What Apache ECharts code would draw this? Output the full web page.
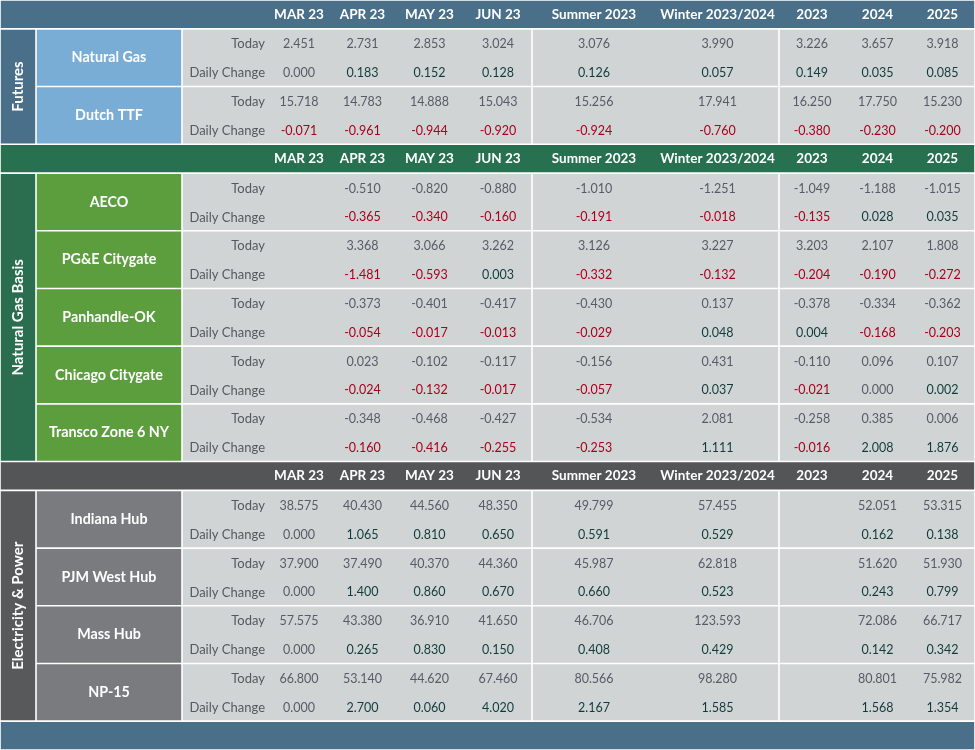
<!DOCTYPE html>
<html>
<head>
<meta charset="utf-8">
<script src="https://cdn.jsdelivr.net/npm/echarts@6/dist/echarts.min.js"></script>
<style>
html, body { margin: 0; padding: 0; background: #fff; }
#main { width: 975px; height: 750px; }
</style>
</head>
<body>
<div id="main"></div>
<script>
// column headers and row labels
var periods = ['MAR 23', 'APR 23', 'MAY 23', 'JUN 23', 'Summer 2023', 'Winter 2023/2024', '2023', '2024', '2025'];
var rowLabels = ['Today', 'Daily Change'];
var sections = ['Futures', 'Natural Gas Basis', 'Electricity & Power'];

// Futures
var futuresHubs = ['Natural Gas', 'Dutch TTF'];
var futuresToday = [
    [2.451, 2.731, 2.853, 3.024, 3.076, 3.990, 3.226, 3.657, 3.918],
    [15.718, 14.783, 14.888, 15.043, 15.256, 17.941, 16.250, 17.750, 15.230]
];
var futuresChange = [
    [0.000, 0.183, 0.152, 0.128, 0.126, 0.057, 0.149, 0.035, 0.085],
    [-0.071, -0.961, -0.944, -0.920, -0.924, -0.760, -0.380, -0.230, -0.200]
];

// Natural Gas Basis
var basisHubs = ['AECO', 'PG&E Citygate', 'Panhandle-OK', 'Chicago Citygate', 'Transco Zone 6 NY'];
var basisToday = [
    [null, -0.510, -0.820, -0.880, -1.010, -1.251, -1.049, -1.188, -1.015],
    [null, 3.368, 3.066, 3.262, 3.126, 3.227, 3.203, 2.107, 1.808],
    [null, -0.373, -0.401, -0.417, -0.430, 0.137, -0.378, -0.334, -0.362],
    [null, 0.023, -0.102, -0.117, -0.156, 0.431, -0.110, 0.096, 0.107],
    [null, -0.348, -0.468, -0.427, -0.534, 2.081, -0.258, 0.385, 0.006]
];
var basisChange = [
    [null, -0.365, -0.340, -0.160, -0.191, -0.018, -0.135, 0.028, 0.035],
    [null, -1.481, -0.593, 0.003, -0.332, -0.132, -0.204, -0.190, -0.272],
    [null, -0.054, -0.017, -0.013, -0.029, 0.048, 0.004, -0.168, -0.203],
    [null, -0.024, -0.132, -0.017, -0.057, 0.037, -0.021, 0.000, 0.002],
    [null, -0.160, -0.416, -0.255, -0.253, 1.111, -0.016, 2.008, 1.876]
];

// Electricity & Power
var powerHubs = ['Indiana Hub', 'PJM West Hub', 'Mass Hub', 'NP-15'];
var powerToday = [
    [38.575, 40.430, 44.560, 48.350, 49.799, 57.455, null, 52.051, 53.315],
    [37.900, 37.490, 40.370, 44.360, 45.987, 62.818, null, 51.620, 51.930],
    [57.575, 43.380, 36.910, 41.650, 46.706, 123.593, null, 72.086, 66.717],
    [66.800, 53.140, 44.620, 67.460, 80.566, 98.280, null, 80.801, 75.982]
];
var powerChange = [
    [0.000, 1.065, 0.810, 0.650, 0.591, 0.529, null, 0.162, 0.138],
    [0.000, 1.400, 0.860, 0.670, 0.660, 0.523, null, 0.243, 0.799],
    [0.000, 0.265, 0.830, 0.150, 0.408, 0.429, null, 0.142, 0.342],
    [0.000, 2.700, 0.060, 4.020, 2.167, 1.585, null, 1.568, 1.354]
];

// layout: column edges (x axis units) and groups of data columns
var colEdges = [0, 36, 182, 268, 330, 395, 464, 532, 656, 779, 845, 910, 975];
var blocks = [[2, 7], [7, 9], [9, 12]];   // gray blocks: [first col, end col)
var themes = [
    { head: '#4a7089', side: '#4a6f89', name: '#7aadd5' },
    { head: '#287150', side: '#2a6e4f', name: '#5c9e3e' },
    { head: '#545557', side: '#58595b', name: '#797b7e' }
];
var footColor = '#4a7089';
var grayCell = '#d1d4d5';
var font = 'Lato, "Open Sans", sans-serif';

var sectionData = [
    { hubs: futuresHubs, today: futuresToday, change: futuresChange },
    { hubs: basisHubs, today: basisToday, change: basisChange },
    { hubs: powerHubs, today: powerToday, change: powerChange }
];

// build cell rects and texts
var cells = [];
var texts = [];
var row = 0;
function mid(c) { return (colEdges[c] + colEdges[c + 1]) / 2; }
function changeColor(v) { return v > 0 ? '#0f3c3a' : (v < 0 ? '#a8001c' : '#565c66'); }

sectionData.forEach(function (sec, s) {
    var th = themes[s];
    // header row
    cells.push({ value: [0, 975, row, row + 1], fill: th.head });
    periods.forEach(function (p, i) {
        texts.push({ value: [mid(i + 3), row + 0.5], text: p, color: '#fff', bold: true, size: 13.5, align: 'center' });
    });
    row++;
    var start = row;
    sec.hubs.forEach(function (hub, h) {
        cells.push({ value: [colEdges[1], colEdges[2], row, row + 2], fill: th.name });
        texts.push({ value: [mid(1), row + 1], text: hub, color: '#fff', bold: true, size: 14.3, align: 'center' });
        blocks.forEach(function (b) {
            cells.push({ value: [colEdges[b[0]], colEdges[b[1]], row, row + 2], fill: grayCell });
        });
        [sec.today[h], sec.change[h]].forEach(function (vals, k) {
            texts.push({ value: [colEdges[3] - 3, row + k + 0.5], text: rowLabels[k], color: '#55595e', size: 13, align: 'right', dy: 1 });
            vals.forEach(function (v, i) {
                if (v === null) return;
                texts.push({
                    value: [mid(i + 3), row + k + 0.5], text: v.toFixed(3), dy: 1,
                    color: k === 0 ? '#565c66' : changeColor(v), size: 12.5, align: 'center'
                });
            });
        });
        row += 2;
    });
    cells.push({ value: [colEdges[0], colEdges[1], start, row], fill: th.side });
    texts.push({ value: [mid(0), (start + row) / 2], text: sections[s], color: '#fff', bold: true, size: 15, align: 'center', rotate: true });
});
// footer band
cells.push({ value: [0, 975, row, row + 1], fill: footColor });
var totalRows = row + 1;

var myChart = echarts.init(document.getElementById('main'));
var gap = 0.8;

var option = {
    animation: false,
    grid: { left: 0, right: 0, top: 0, bottom: 0 },
    xAxis: { type: 'value', min: 0, max: 975, show: false },
    yAxis: { type: 'value', min: 0, max: totalRows, inverse: true, show: false },
    series: [
        {
            type: 'custom',
            name: 'cells',
            silent: true,
            clip: false,
            data: cells,
            renderItem: function (params, api) {
                var p0 = api.coord([api.value(0), api.value(2)]);
                var p1 = api.coord([api.value(1), api.value(3)]);
                return {
                    type: 'rect',
                    shape: { x: p0[0] + gap, y: p0[1] + gap, width: p1[0] - p0[0] - 2 * gap, height: p1[1] - p0[1] - 2 * gap },
                    style: { fill: cells[params.dataIndex].fill }
                };
            }
        },
        {
            type: 'custom',
            name: 'texts',
            silent: true,
            clip: false,
            data: texts,
            renderItem: function (params, api) {
                var t = texts[params.dataIndex];
                var p = api.coord([api.value(0), api.value(1)]);
                return {
                    type: 'text',
                    x: p[0],
                    y: p[1] + (t.dy || 0),
                    rotation: t.rotate ? Math.PI / 2 : 0,
                    style: {
                        text: t.text,
                        fill: t.color,
                        font: (t.bold ? 'bold ' : '') + t.size + 'px ' + font,
                        align: t.align,
                        verticalAlign: 'middle'
                    }
                };
            }
        }
    ]
};

myChart.setOption(option);
</script>
</body>
</html>
